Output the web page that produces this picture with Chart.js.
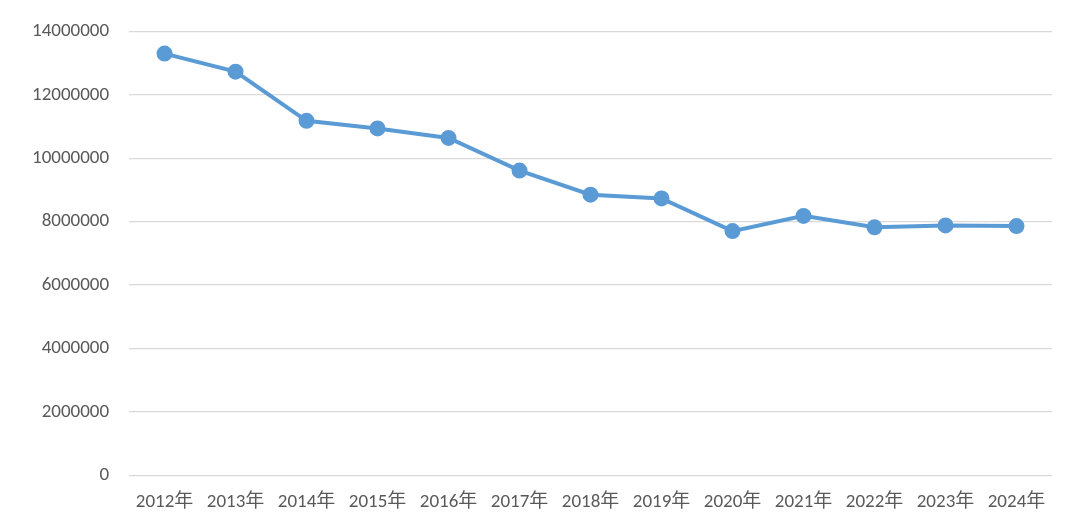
<!DOCTYPE html>
<html>
<head>
<meta charset="utf-8">
<script src="https://cdn.jsdelivr.net/npm/chart.js@4"></script>
<style>
  html, body { margin: 0; padding: 0; background: #fff; }
  #wrap { width: 1070px; height: 522px; }
</style>
</head>
<body>
<div id="wrap"><canvas id="lineChart"></canvas></div>
<script>
const years = ['2012年', '2013年', '2014年', '2015年', '2016年', '2017年', '2018年',
  '2019年', '2020年', '2021年', '2022年', '2023年', '2024年'];
const values = [13300000, 12730000, 11180000, 10940000, 10640000, 9610000, 8850000,
  8730000, 7700000, 8180000, 7820000, 7880000, 7860000];

const ctx = document.getElementById('lineChart').getContext('2d');
new Chart(ctx, {
  type: 'line',
  data: {
    labels: years,
    datasets: [{
      data: values,
      borderColor: '#5b9bd5',
      backgroundColor: '#5b9bd5',
      borderWidth: 4,
      pointRadius: 6,
      pointHoverRadius: 6,
      tension: 0
    }]
  },
  options: {
    responsive: true,
    maintainAspectRatio: false,
    animation: false,
    layout: { padding: { left: 12, right: 18, top: 8, bottom: 0 } },
    plugins: { legend: { display: false }, tooltip: { enabled: false } },
    scales: {
      x: {
        offset: true,
        grid: { display: false },
        border: { display: false },
        ticks: { color: '#595959', padding: 8, font: { family: 'Calibri, Carlito, "Noto Sans CJK SC", sans-serif', size: 19 }, maxRotation: 0, autoSkip: false }
      },
      y: {
        min: 0,
        max: 14000000,
        ticks: {
          stepSize: 2000000, color: '#595959', padding: 20,
          font: { family: 'Calibri, Carlito, "Liberation Sans", sans-serif', size: 19 },
          callback: v => String(v)
        },
        grid: { color: '#d9d9d9', lineWidth: 1.3, drawTicks: false },
        border: { display: false }
      }
    }
  }
});
</script>
</body>
</html>
